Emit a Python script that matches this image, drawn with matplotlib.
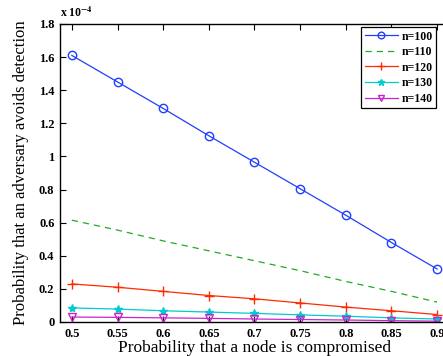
import matplotlib
matplotlib.use("Agg")
import matplotlib.pyplot as plt

# node compromise probability
p = [0.5, 0.55, 0.6, 0.65, 0.7, 0.75, 0.8, 0.85, 0.9]

# probability that adversary avoids detection (units of 1e-4)
n100 = [1.61, 1.45, 1.29, 1.125, 0.965, 0.805, 0.645, 0.48, 0.32]
n110 = [0.615, 0.555, 0.49, 0.43, 0.37, 0.31, 0.245, 0.185, 0.12]
n120 = [0.23, 0.21, 0.185, 0.16, 0.14, 0.115, 0.09, 0.068, 0.045]
n130 = [0.085, 0.078, 0.068, 0.06, 0.052, 0.043, 0.035, 0.025, 0.018]
n140 = [0.03, 0.028, 0.025, 0.022, 0.018, 0.015, 0.012, 0.008, 0.005]

xticks = [0.5, 0.55, 0.6, 0.65, 0.7, 0.75, 0.8, 0.85, 0.9]
xticklabels = ["0.5", "0.55", "0.6", "0.65", "0.7", "0.75", "0.8", "0.85", "0.9"]
yticks = [0, 0.2, 0.4, 0.6, 0.8, 1.0, 1.2, 1.4, 1.6, 1.8]
yticklabels = ["0", "0.2", "0.4", "0.6", "0.8", "1", "1.2", "1.4", "1.6", "1.8"]

plt.rcParams["font.family"] = ["Liberation Serif", "DejaVu Serif"]
plt.rcParams["mathtext.fontset"] = "stix"

fig = plt.figure(figsize=(4.43, 3.56), dpi=100)
ax = fig.add_axes([60 / 443, 34 / 356, 389 / 443, 298 / 356])

ax.plot(p, n100, color="#1f3fff", marker="o", markerfacecolor="none",
        markersize=6, linewidth=0.9, label="n=100")
ax.plot(p, n110, color="#22aa22", linestyle=(0, (5, 4)), linewidth=0.9, label="n=110")
ax.plot(p, n120, color="#ff2a00", marker="+", markersize=7, linewidth=0.9, label="n=120")
ax.plot(p, n130, color="#00cccc", marker="*", markersize=6, linewidth=0.9, label="n=130")
ax.plot(p, n140, color="#cc22cc", marker="v", markerfacecolor="none",
        markersize=6, linewidth=0.9, label="n=140")

ax.set_xlim(0.487, 0.913)
ax.set_ylim(0, 1.8)
ax.set_xticks(xticks)
ax.set_xticklabels(xticklabels, fontsize=9, fontweight="bold")
ax.set_yticks(yticks)
ax.set_yticklabels(yticklabels, fontsize=9, fontweight="bold")
ax.tick_params(direction="in", top=True, right=True, length=4, width=0.8, pad=4)
for s in ax.spines.values():
    s.set_linewidth(1.0)

ax.set_xlabel("Probability that a node is compromised", fontsize=12.5, labelpad=0)
ax.set_ylabel("Probability that an adversary avoids detection", fontsize=12, labelpad=7)

ax.text(0.0, 1.012, r"x 10$^{\mathbf{-4}}$", transform=ax.transAxes,
        fontsize=8.5, fontweight="bold", ha="left", va="bottom")

leg = ax.legend(loc="upper right", bbox_to_anchor=(436 / 443, 329 / 356),
                bbox_transform=fig.transFigure, fancybox=False, edgecolor="black",
                framealpha=1, prop={"weight": "bold", "size": 8.5}, markerscale=0.8,
                handlelength=2.8, borderpad=0.3, labelspacing=0.3, handletextpad=0.3,
                borderaxespad=0)
leg.get_frame().set_linewidth(0.9)

fig.savefig("out.png", dpi=100)
